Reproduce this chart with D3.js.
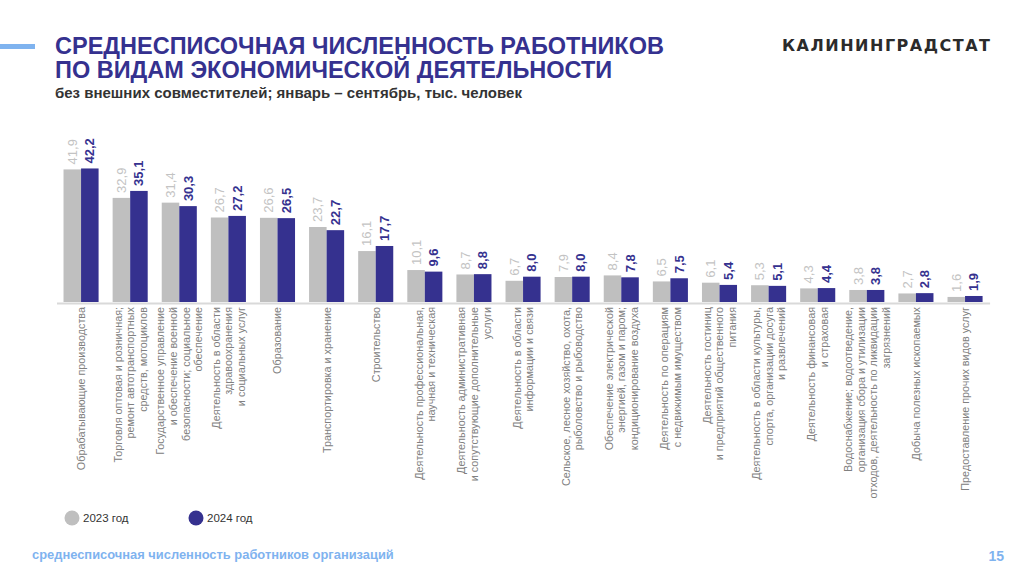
<!DOCTYPE html>
<html><head><meta charset="utf-8">
<script src="https://cdn.jsdelivr.net/npm/d3@7"></script>
<style>
html,body{margin:0;padding:0;background:#fff;}
svg{display:block;font-family:"Liberation Sans",Arial,sans-serif;}
</style></head>
<body><svg id="c" width="1024" height="572"></svg>
<script>
const categories = [
  ["Обрабатывающие производства"],
  ["Торговля оптовая и розничная;", "ремонт автотранспортных", "средств, мотоциклов"],
  ["Государственное управление", "и обеспечение военной", "безопасности; социальное", "обеспечение"],
  ["Деятельность в области", "здравоохранения", "и социальных услуг"],
  ["Образование"],
  ["Транспортировка и хранение"],
  ["Строительство"],
  ["Деятельность профессиональная,", "научная и техническая"],
  ["Деятельность административная", "и сопутствующие дополнительные", "услуги"],
  ["Деятельность в области", "информации и связи"],
  ["Сельское, лесное хозяйство, охота,", "рыболовство и рыбоводство"],
  ["Обеспечение электрической", "энергией, газом и паром;", "кондиционирование воздуха"],
  ["Деятельность по операциям", "с недвижимым имуществом"],
  ["Деятельность гостиниц", "и предприятий общественного", "питания"],
  ["Деятельность в области культуры,", "спорта, организации досуга", "и развлечений"],
  ["Деятельность финансовая", "и страховая"],
  ["Водоснабжение; водоотведение,", "организация сбора и утилизации", "отходов, деятельность по ликвидации", "загрязнений"],
  ["Добыча полезных ископаемых"],
  ["Предоставление прочих видов услуг"]
];
const values2023 = [41.9, 32.9, 31.4, 26.7, 26.6, 23.7, 16.1, 10.1, 8.7, 6.7, 7.9, 8.4, 6.5, 6.1, 5.3, 4.3, 3.8, 2.7, 1.6];
const values2024 = [42.2, 35.1, 30.3, 27.2, 26.5, 22.7, 17.7, 9.6, 8.8, 8.0, 8.0, 7.8, 7.5, 5.4, 5.1, 4.4, 3.8, 2.8, 1.9];
const seriesNames = ["2023 год", "2024 год"];

const GRAY = "#bfbfbf", NAVY = "#35318f", LABEL_GRAY = "#c3c3c3", TXT = "#808080";
const svg = d3.select("#c");

// header
svg.append("rect").attr("x", 0).attr("y", 44).attr("width", 35).attr("height", 5).attr("fill", "#7fb3ef");
const title = svg.append("text").attr("x", 55).attr("fill", NAVY).attr("font-weight", "bold").attr("font-size", 23.5);
title.append("tspan").attr("x", 55).attr("y", 54).text("СРЕДНЕСПИСОЧНАЯ ЧИСЛЕННОСТЬ РАБОТНИКОВ");
title.append("tspan").attr("x", 55).attr("y", 78).text("ПО ВИДАМ ЭКОНОМИЧЕСКОЙ ДЕЯТЕЛЬНОСТИ");
svg.append("text").attr("x", 55).attr("y", 98).attr("fill", "#333").attr("font-weight", "bold").attr("font-size", 15)
  .text("без внешних совместителей; январь – сентябрь, тыс. человек");
svg.append("text").attr("x", 782).attr("y", 51).attr("fill", "#2b2b2b")
  .style("font-family", "'DejaVu Sans', sans-serif")
  .attr("font-weight", "bold").attr("font-size", 16)
  .attr("textLength", 208).attr("lengthAdjust", "spacing").text("КАЛИНИНГРАДСТАТ");

// scales
const idx = d3.range(categories.length);
const x = d3.scaleBand().domain(idx).range([56.5, 989.6]).paddingInner(0.286).paddingOuter(0.143);
const xs = d3.scaleBand().domain([0, 1]).range([0, x.bandwidth()]);
const y = d3.scaleLinear().domain([0, 45]).range([302, 159.6]);

const g = svg.append("g");
const series = [values2023, values2024];
series.forEach((vals, s) => {
  g.selectAll(".b" + s).data(vals).join("rect")
    .attr("x", (d, i) => x(i) + xs(s))
    .attr("y", d => y(d))
    .attr("width", xs.bandwidth())
    .attr("height", d => y(0) - y(d))
    .attr("fill", s ? NAVY : GRAY);
  g.selectAll(".l" + s).data(vals).join("text")
    .attr("transform", (d, i) => `translate(${x(i) + xs(s) + xs.bandwidth() / 2 + 4.5},${y(d) - 5}) rotate(-90)`)
    .attr("fill", s ? NAVY : LABEL_GRAY)
    .attr("font-weight", s ? "bold" : "normal")
    .attr("font-size", 13)
    .text(d => d.toFixed(1).replace(".", ","));
});

// axis baseline
const xAxis = d3.axisBottom(x).tickSize(0).tickFormat("");
const ax = svg.append("g").attr("transform", `translate(0,${y(0) + 1})`).call(xAxis);
ax.select(".domain").attr("stroke", "#d9d9d9").attr("stroke-width", 2);

// category labels
const lh = 12.6;
categories.forEach((lines, i) => {
  const cx = x(i) + x.bandwidth() / 2;
  const n = lines.length;
  lines.forEach((ln, j) => {
    const off = (j - (n - 1) / 2) * lh;
    svg.append("text")
      .attr("transform", `translate(${cx + off + 4},307) rotate(-90)`)
      .attr("text-anchor", "end")
      .attr("fill", TXT).attr("font-size", 10.8)
      .text(ln);
  });
});

// legend
const leg = [[72, GRAY], [196, NAVY]];
leg.forEach(([lx, c], i) => {
  svg.append("circle").attr("cx", lx).attr("cy", 518).attr("r", 7.5).attr("fill", c);
  svg.append("text").attr("x", lx + 11).attr("y", 522).attr("fill", "#333").attr("font-size", 11.5).text(seriesNames[i]);
});

// footer
svg.append("text").attr("x", 32).attr("y", 559).attr("fill", "#7fb3ef").attr("font-weight", "bold").attr("font-size", 12.9)
  .text("среднесписочная численность работников организаций");
svg.append("text").attr("x", 1004).attr("y", 561).attr("text-anchor", "end").attr("fill", "#7fb3ef").attr("font-weight", "bold").attr("font-size", 14)
  .text("15");
</script></body></html>
